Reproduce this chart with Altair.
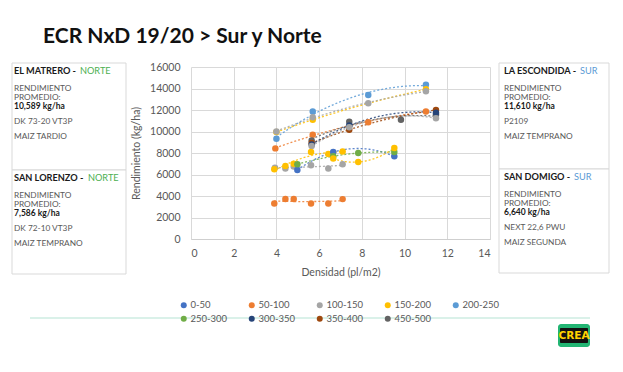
import altair as alt
import pandas as pd

# ---------------- data ----------------
SERIES = ["0-50", "50-100", "100-150", "150-200", "200-250",
          "250-300", "300-350", "350-400", "450-500"]
COLORS = ["#4472C4", "#ED7D31", "#A5A5A5", "#FFC000", "#5B9BD5",
          "#70AD47", "#264478", "#9E480E", "#636363"]

# La Escondida (SUR)
le_blue_x = [4.0, 5.7, 8.3, 11.0];   le_blue_y = [9330, 11860, 13400, 14340]
le_yel_x = [4.0, 5.7, 11.0];         le_yel_y = [9950, 11090, 13930]
le_gray_x = [4.0, 5.7, 8.3, 11.0];   le_gray_y = [10000, 11330, 12630, 13740]
le_or_x = [3.95, 5.7, 8.3, 11.0];    le_or_y = [8430, 9700, 10870, 11860]
# El Matrero (NORTE)
em_dg_x = [5.65, 7.41, 9.83, 11.47]; em_dg_y = [9170, 10900, 11090, 11560]
em_br_x = [5.65, 7.41, 11.47];       em_br_y = [8930, 10170, 12000]
em_nv_x = [5.65, 7.41, 11.47];       em_nv_y = [8800, 10550, 11750]
em_gray_x = [5.65, 7.41, 11.47];     em_gray_y = [8650, 10400, 11240]
# San Domigo (SUR)
sd_or_x = [3.9, 4.42, 4.81, 5.62, 6.43, 7.1]; sd_or_y = [3310, 3720, 3720, 3310, 3310, 3710]
sd_gray_x = [3.93, 4.42, 4.81, 5.62, 6.43, 7.1]; sd_gray_y = [6640, 6550, 6750, 6860, 6550, 6950]
sd_yel_x = [3.9, 4.42, 4.81, 5.62, 6.43, 7.1]; sd_yel_y = [6490, 6790, 7010, 8100, 7900, 8130]
# San Lorenzo (NORTE)
sl_blue_x = [4.98, 6.66, 9.52];      sl_blue_y = [6420, 8090, 7690]
sl_gr_x = [4.98, 6.66, 7.83, 9.52];  sl_gr_y = [6950, 7700, 7990, 8090]
sl_yel_x = [6.66, 7.83, 9.52];       sl_yel_y = [7480, 7160, 8460]

GROUPS = [
    ("200-250", "LE", le_blue_x, le_blue_y),
    ("150-200", "LE", le_yel_x, le_yel_y),
    ("100-150", "LE", le_gray_x, le_gray_y),
    ("50-100", "LE", le_or_x, le_or_y),
    ("450-500", "EM", em_dg_x, em_dg_y),
    ("350-400", "EM", em_br_x, em_br_y),
    ("300-350", "EM", em_nv_x, em_nv_y),
    ("100-150", "EM", em_gray_x, em_gray_y),
    ("50-100", "SD", sd_or_x, sd_or_y),
    ("100-150", "SD", sd_gray_x, sd_gray_y),
    ("150-200", "SD", sd_yel_x, sd_yel_y),
    ("0-50", "SL", sl_blue_x, sl_blue_y),
    ("250-300", "SL", sl_gr_x, sl_gr_y),
    ("150-200", "SL", sl_yel_x, sl_yel_y),
]

rows = []
for s, g, xs, ys in GROUPS:
    for a, b in zip(xs, ys):
        rows.append({"serie": s, "grupo": s + g, "dens": a, "rend": b})
df = pd.DataFrame(rows)

TITLE = "ECR NxD 19/20 > Sur y Norte"
X_TICKS = list(range(0, 15, 2))
Y_TICKS = list(range(0, 16001, 2000))

# side boxes: (name, zone, average, hybrid, type)
BOXES = [
    ("EL MATRERO - ", "NORTE", "10,589 kg/ha", "DK 73-20 VT3P", "MAIZ TARDIO"),
    ("SAN LORENZO - ", "NORTE", "7,586 kg/ha", "DK 72-10 VT3P", "MAIZ TEMPRANO"),
    ("LA ESCONDIDA - ", "SUR", "11,610 kg/ha", "P2109", "MAIZ TEMPRANO"),
    ("SAN DOMIGO - ", "SUR", "6,640 kg/ha", "NEXT 22,6 PWU", "MAIZ SEGUNDA"),
]
ZONE_COLORS = {"NORTE": "#4CAF50", "SUR": "#5B9BD5"}

# ---------------- layout ----------------
W, H = 299, 172
OX, OY = 191, 67          # page position of plot origin
FONT = "Lato"
GREY = "#595959"

box_frames = [(12, 126, 63, 170, 14, 80), (12, 126, 170, 274, 14, 88),
              (499, 609, 63, 169, 504, 580), (499, 609, 169, 273, 504, 574)]

rect_rows, norm_rows, bold_rows, head_rows = [], [], [], []
zone_rows = {"NORTE": [], "SUR": []}
for (name, zone, avg, hyb, typ), (x0, x1, y0, y1, tx, zx) in zip(BOXES, box_frames):
    rect_rows.append({"x": x0 - OX, "x2": x1 - OX, "y": y0 - OY, "y2": y1 - OY})
    head_rows.append({"x": tx - OX, "y": y0 + 8 - OY, "t": name})
    zone_rows[zone].append({"x": zx - OX, "y": y0 + 8 - OY, "t": zone})
    norm_rows.append({"x": tx - OX, "y": y0 + 26 - OY, "t": "RENDIMIENTO"})
    norm_rows.append({"x": tx - OX, "y": y0 + 34.5 - OY, "t": "PROMEDIO:"})
    bold_rows.append({"x": tx - OX, "y": y0 + 43 - OY, "t": avg})
    norm_rows.append({"x": tx - OX, "y": y0 + 58.5 - OY, "t": hyb})
    norm_rows.append({"x": tx - OX, "y": y0 + 73.5 - OY, "t": typ})

rects = alt.Chart(pd.DataFrame(rect_rows)).mark_rect(
    fill="white", stroke="#d9d9d9", strokeWidth=1
).encode(x=alt.X("x:Q", scale=None, axis=None), x2="x2:Q",
         y=alt.Y("y:Q", scale=None, axis=None), y2="y2:Q")

def texts(rows, **kw):
    d = pd.DataFrame(rows)
    return alt.Chart(d).mark_text(align="left", baseline="middle", font=FONT, **kw).encode(
        x=alt.X("x:Q", scale=None, axis=None),
        y=alt.Y("y:Q", scale=None, axis=None), text="t:N")

t_norm = texts(norm_rows, fontSize=8.3, color=GREY)
t_bold = texts(bold_rows, fontSize=8.5, fontWeight="bold", color="#1a1a1a")
t_head = texts(head_rows, fontSize=9.2, fontWeight="bold", color="#1a1a1a")
t_zn = texts(zone_rows["NORTE"], fontSize=9.2, color=ZONE_COLORS["NORTE"])
t_zs = texts(zone_rows["SUR"], fontSize=9.2, color=ZONE_COLORS["SUR"])

title = alt.Chart(pd.DataFrame({"t": [TITLE]})).mark_text(
    align="left", baseline="middle", font=FONT, fontSize=21, fontWeight="bold", color="#111111"
).encode(x=alt.value(43 - OX), y=alt.value(37 - OY), text="t:N")

sep = alt.Chart(pd.DataFrame({"k": [0]})).mark_rule(color="#b5e3d3", strokeWidth=1).encode(
    x=alt.value(30 - OX), x2=alt.value(590 - OX), y=alt.value(318 - OY))

logo_bg = alt.Chart(pd.DataFrame({"k": [0]})).mark_rect(fill="#22B573", cornerRadius=3).encode(
    x=alt.value(558 - OX), x2=alt.value(590 - OX), y=alt.value(324 - OY), y2=alt.value(347 - OY))
logo_in = alt.Chart(pd.DataFrame({"k": [0]})).mark_rect(fill="#111111", cornerRadius=1).encode(
    x=alt.value(560 - OX), x2=alt.value(588 - OX), y=alt.value(328 - OY), y2=alt.value(343 - OY))
logo_t = alt.Chart(pd.DataFrame({"t": ["CREA"]})).mark_text(
    align="center", baseline="middle", font="DejaVu Sans", fontSize=10.5, fontWeight="bold",
    color="#FFD200"
).encode(x=alt.value(574 - OX), y=alt.value(336 - OY), text="t:N")

xenc = alt.X("dens:Q", scale=alt.Scale(domain=[0, 14], nice=False),
             axis=alt.Axis(values=X_TICKS, title="Densidad (pl/m2)", grid=True, format="d",
                           labelPadding=9, titlePadding=9))
yenc = alt.Y("rend:Q", scale=alt.Scale(domain=[0, 16000], nice=False),
             axis=alt.Axis(values=Y_TICKS, title="Rendimiento (kg/ha)", grid=True, domain=False,
                           format="d", labelPadding=11, titlePadding=8))

cscale = alt.Scale(domain=SERIES, range=COLORS)
LEGEND = alt.Legend(orient="none", legendX=-12, legendY=233, direction="horizontal",
                    columns=5, gridAlign="all", columnPadding=19, rowPadding=3,
                    symbolType="circle", symbolSize=36, symbolStrokeWidth=0,
                    labelFont=FONT, labelFontSize=9.5, labelColor=GREY,
                    labelOffset=2, symbolOpacity=1, title=None)
cenc = alt.Color("serie:N", scale=cscale, sort=SERIES, title=None, legend=LEGEND)

base = alt.Chart(df)
trend = base.transform_regression(
    "dens", "rend", groupby=["serie", "grupo"], method="poly", order=2
).mark_line(strokeDash=[2, 2], strokeWidth=1.3, opacity=0.85).encode(
    x=xenc, y=yenc, color=cenc, detail="grupo:N")

pts = base.mark_point(size=42, opacity=1, filled=True, shape="circle").encode(
    x=xenc, y=yenc, color=cenc)

chart = alt.layer(rects, t_norm, t_bold, t_head, t_zn, t_zs, title, sep, logo_bg, logo_in, logo_t,
                  trend, pts).properties(
    width=W, height=H,
    autosize=alt.AutoSizeParams(type="none"),
    padding={"left": 183, "top": 59, "right": 125, "bottom": 125},
    background="white",
).configure_view(stroke=None).configure_axis(
    labelFont=FONT, labelFontSize=10.5, labelColor=GREY, titleFont=FONT, titleFontSize=10.5,
    titleColor=GREY, titleFontWeight="normal", gridColor="#d9d9d9", domainColor="#cfcfcf",
    ticks=False
)

chart.save("out.html", embed_options={"renderer": "svg", "actions": False})
